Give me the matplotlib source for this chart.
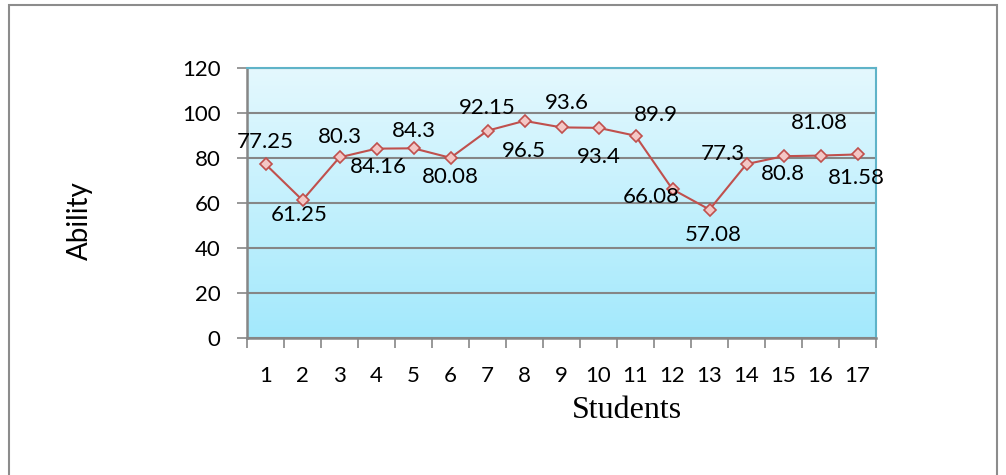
import numpy as np
import matplotlib
matplotlib.use("Agg")
import matplotlib.pyplot as plt
from matplotlib.colors import LinearSegmentedColormap
from matplotlib.patches import Rectangle

# Ability score for each student
students = list(range(1, 18))
ability = [77.25, 61.25, 80.3, 84.16, 84.3, 80.08, 92.15, 96.5, 93.6,
           93.4, 89.9, 66.08, 57.08, 77.3, 80.8, 81.08, 81.58]
y_ticks = [0, 20, 40, 60, 80, 100, 120]

# where each value label sits relative to its point (pixels)
label_dx = [0, -3, 0, 2, 0, 0, 0, -1, 5, 0, 20, -21, 4, -24, -1, -1, -1]
label_dy = [22, -15, 20, -18, 17, -19, 23, -30, 24, -29, 21, -8, -25, 10, -18, 33, -24]

plt.rcParams['font.family'] = ['Lato', 'DejaVu Sans']

fig = plt.figure(figsize=(10.06, 4.75), dpi=100)

# outer chart border
fig.patches.append(Rectangle((9 / 1006, -0.05), 988 / 1006, 1.05 - 5 / 475,
                             transform=fig.transFigure, fill=False,
                             edgecolor='#8c8c8c', linewidth=1.5))

ax = fig.add_axes([247 / 1006, 1 - 338 / 475, 629 / 1006, 270 / 475])

# light blue vertical gradient behind the plot
grad = LinearSegmentedColormap.from_list('bg', ['#a3e9fc', '#e4f8fe'])
ax.imshow(np.linspace(0, 1, 256).reshape(-1, 1), cmap=grad, origin='lower',
          aspect='auto', extent=[0, 1, 0, 1], transform=ax.transAxes, zorder=0)

ax.set_xlim(0.5, 17.5)
ax.set_ylim(0, 120)
ax.set_yticks(y_ticks)
ax.yaxis.grid(True, color='#868686', linewidth=1.5)
ax.set_axisbelow(True)

ax.set_xticks(students)
ax.set_xticks(np.arange(0.5, 18, 1), minor=True)
ax.tick_params(axis='x', which='major', length=0, pad=20, labelsize=16)
ax.tick_params(axis='x', which='minor', length=7, width=1.2, color='#868686')
ax.tick_params(axis='y', length=7, width=1.2, color='#868686', pad=12, labelsize=16)

for side in ['left', 'bottom']:
    ax.spines[side].set_color('#868686')
    ax.spines[side].set_linewidth(1.8)
for side in ['top', 'right']:
    ax.spines[side].set_color('#5fb3c8')
    ax.spines[side].set_linewidth(1.5)

ax.plot(students, ability, color='#c0504d', linewidth=1.5, marker='D',
        markersize=6, markerfacecolor='#f4c7c5', markeredgecolor='#c0504d',
        markeredgewidth=1.2, zorder=3)

for x, y, dx, dy in zip(students, ability, label_dx, label_dy):
    ax.annotate(f'{y:g}', (x, y), xytext=(dx, dy), textcoords='offset pixels',
                ha='center', va='center', fontsize=16, color='black', zorder=4)

# axis titles
fig.text(627 / 1006, 1 - 410 / 475, 'Students', family='Liberation Serif',
         fontsize=23, ha='center', va='center')
fig.text(80 / 1006, 1 - 221 / 475, 'Ability', rotation=90, ha='center',
         va='center', fontsize=20)

fig.savefig('out.png', dpi=100)
